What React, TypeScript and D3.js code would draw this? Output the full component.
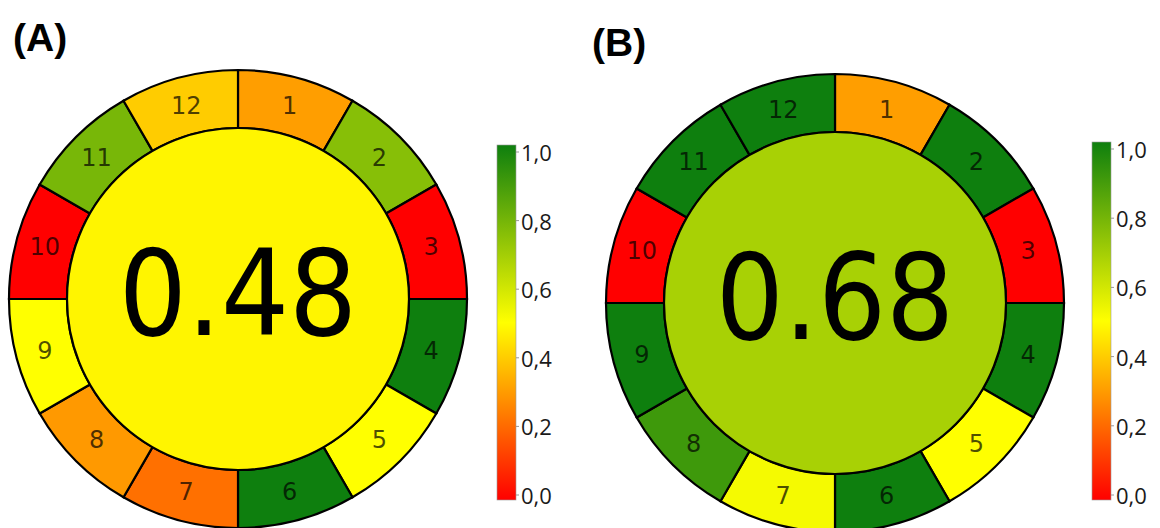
import React from "react";
import * as d3 from "d3";

const criteria = ["1", "2", "3", "4", "5", "6", "7", "8", "9", "10", "11", "12"];
const scoresA = [0.31, 0.75, 0.0, 1.0, 0.5, 1.0, 0.22, 0.3, 0.5, 0.0, 0.78, 0.4];
const scoresB = [0.31, 1.0, 0.0, 1.0, 0.5, 1.0, 0.52, 0.9, 1.0, 0.0, 1.0, 1.0];
const totalA = 0.48;
const totalB = 0.68;
const panelLabels = ["(A)", "(B)"];
const tickValues = [0, 0.2, 0.4, 0.6, 0.8, 1.0];
const tickLabels = ["0,0", "0,2", "0,4", "0,6", "0,8", "1,0"];

const colorScale = d3
  .scaleLinear<string>()
  .domain([0, 0.5, 1])
  .range(["#ff0000", "#ffff00", "#0e7f0e"])
  .interpolate(d3.interpolateRgb);

type PanelProps = {
  cx: number;
  cy: number;
  scores: number[];
  total: number;
  label: string;
  labelX: number;
  labelY: number;
  barX: number;
  barTop: number;
  barBottom: number;
  gradId: string;
};

function Panel(p: PanelProps) {
  const R = 229;
  const r = 171;
  const pie = d3
    .pie<number>()
    .value(() => 1)
    .sort(null)
    .startAngle(0)
    .endAngle(2 * Math.PI);
  const arcs = pie(p.scores);
  const arcGen = d3.arc<d3.PieArcDatum<number>>().innerRadius(r).outerRadius(R);
  const labelArc = d3.arc<d3.PieArcDatum<number>>().innerRadius(200).outerRadius(200);
  const yScale = d3.scaleLinear().domain([0, 1]).range([p.barBottom, p.barTop]);
  const labelScale = d3.scaleLinear().domain([0, 1]).range([p.barBottom - 5, p.barTop + 7]);
  const barW = 19;
  return (
    <g>
      <text
        x={p.labelX}
        y={p.labelY}
        fontFamily="'Liberation Sans', Arial, sans-serif"
        fontWeight="bold"
        fontSize={39}
        fill="#000"
      >
        {p.label}
      </text>
      <g transform={`translate(${p.cx},${p.cy})`}>
        {arcs.map((a, i) => (
          <path
            key={i}
            d={arcGen(a) || ""}
            fill={colorScale(a.data)}
            stroke="#000"
            strokeWidth={2.2}
          />
        ))}
        <circle r={r} fill={colorScale(p.total)} stroke="#000" strokeWidth={2.2} />
        {arcs.map((a, i) => {
          const [x, y] = labelArc.centroid(a);
          return (
            <text
              key={"t" + i}
              x={x}
              y={y}
              textAnchor="middle"
              dominantBaseline="central"
              fontFamily="'DejaVu Sans', sans-serif"
              fontSize={24}
              fill="#000"
              fillOpacity={0.7}
            >
              {criteria[i]}
            </text>
          );
        })}
        <text
          x={0}
          y={36}
          textAnchor="middle"
          fontFamily="'DejaVu Sans', sans-serif"
          fontSize={119}
          fill="#000"
          transform="scale(0.9,1)"
        >
          {p.total.toFixed(2)}
        </text>
      </g>
      <defs>
        <linearGradient id={p.gradId} x1="0" y1="1" x2="0" y2="0">
          {[0, 0.25, 0.5, 0.75, 1].map((v) => (
            <stop key={v} offset={`${v * 100}%`} stopColor={colorScale(v)} />
          ))}
        </linearGradient>
      </defs>
      <rect
        x={p.barX}
        y={yScale(1)}
        width={barW}
        height={yScale(0) - yScale(1)}
        fill={`url(#${p.gradId})`}
        stroke="#9a9a9a"
        strokeWidth={0.6}
      />
      {tickValues.map((v, i) => (
        <g key={"k" + i}>
          <line
            x1={p.barX + barW}
            x2={p.barX + barW + 3}
            y1={labelScale(v)}
            y2={labelScale(v)}
            stroke="#999"
            strokeWidth={1}
          />
          <text
            x={p.barX + barW + 5}
            y={labelScale(v)}
            dominantBaseline="central"
            fontFamily="'Open Sans', sans-serif"
            fontSize={22}
            fill="#1a1a1a"
          >
            {tickLabels[i]}
          </text>
        </g>
      ))}
    </g>
  );
}

export default function App() {
  return (
    <svg
      width={1160}
      height={528}
      style={{ position: "absolute", left: 0, top: 0, background: "#fff" }}
    >
      <rect width={1160} height={528} fill="#fff" />
      <Panel
        cx={238}
        cy={299}
        scores={scoresA}
        total={totalA}
        label={panelLabels[0]}
        labelX={13}
        labelY={51}
        barX={497}
        barTop={145}
        barBottom={500}
        gradId="gradA"
      />
      <Panel
        cx={835}
        cy={303}
        scores={scoresB}
        total={totalB}
        label={panelLabels[1]}
        labelX={592}
        labelY={56}
        barX={1092}
        barTop={142}
        barBottom={500}
        gradId="gradB"
      />
    </svg>
  );
}
